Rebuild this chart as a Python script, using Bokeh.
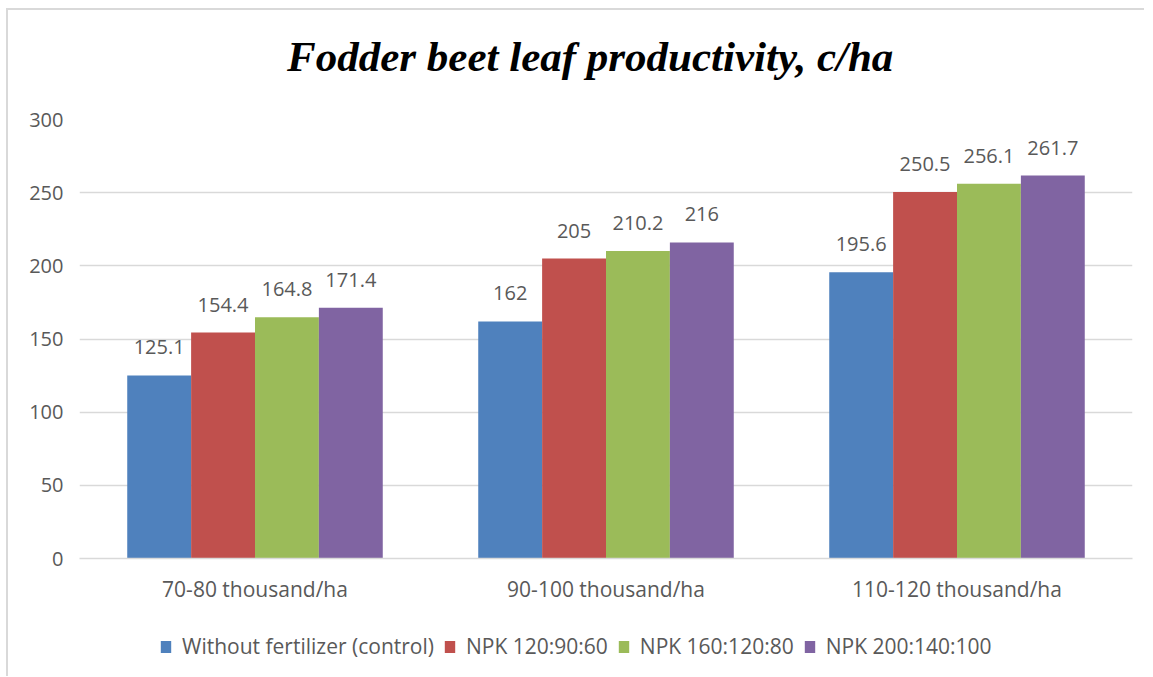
from bokeh.plotting import figure
from bokeh.models import ColumnDataSource, Legend, LegendItem, FactorRange, Label
from bokeh.layouts import column
from bokeh.transform import dodge
from bokeh.embed import file_html
from bokeh.resources import INLINE

categories = ["70-80 thousand/ha", "90-100 thousand/ha", "110-120 thousand/ha"]
series_names = ["Without fertilizer (control)", "NPK 120:90:60", "NPK 160:120:80", "NPK 200:140:100"]
control = [125.1, 162, 195.6]
npk_120 = [154.4, 205, 250.5]
npk_160 = [164.8, 210.2, 256.1]
npk_200 = [171.4, 216, 261.7]

colors = ["#4F81BD", "#C0504D", "#9BBB59", "#8064A2"]
series_values = [control, npk_120, npk_160, npk_200]
offsets = [-0.273, -0.091, 0.091, 0.273]
bar_w = 0.182

FONT = "Open Sans"
TXT = "#595959"
W = 1136


def bare(fig):
    fig.axis.visible = False
    fig.xgrid.grid_line_color = None
    fig.ygrid.grid_line_color = None
    fig.outline_line_color = None
    fig.background_fill_color = "white"
    fig.border_fill_color = "white"


# Title
title_fig = figure(width=W, height=86, x_range=(0, 1), y_range=(0, 1),
                   toolbar_location=None, output_backend="svg", min_border=0)
bare(title_fig)
title_fig.add_layout(Label(x=0.485, y=0.46, text="Fodder beet leaf productivity, c/ha",
                           text_align="center", text_baseline="middle",
                           text_font="Liberation Serif", text_font_style="bold italic",
                           text_font_size="43px", text_color="#000000"))

# Main chart
p = figure(
    x_range=FactorRange(*categories), y_range=(0, 300),
    frame_width=1053, frame_height=439, output_backend="svg", toolbar_location=None,
    min_border_left=71, min_border_right=12, min_border_top=23, min_border_bottom=52,
)
p.outline_line_color = None
p.background_fill_color = "white"
p.border_fill_color = "white"

sources = []
for name, vals, col, off in zip(series_names, series_values, colors, offsets):
    src = ColumnDataSource(dict(cat=categories, val=vals, lab=[f"{v:g}" for v in vals]))
    sources.append(src)
    p.vbar(x=dodge("cat", off, range=p.x_range), top="val", width=bar_w, source=src,
           fill_color=col, line_color=None)
    p.text(x=dodge("cat", off, range=p.x_range), y="val", text="lab", source=src,
           text_align="center", text_baseline="bottom", y_offset=-21,
           text_font={"value": FONT}, text_font_size="20px", text_color=TXT)

p.xgrid.grid_line_color = None
p.ygrid.grid_line_color = "#d9d9d9"
p.ygrid.grid_line_width = 1.3

p.yaxis.ticker = [0, 50, 100, 150, 200, 250, 300]
p.yaxis.axis_line_color = None
p.yaxis.major_tick_line_color = None
p.yaxis.minor_tick_line_color = None
p.yaxis.major_label_text_font = FONT
p.yaxis.major_label_text_font_size = "20px"
p.yaxis.major_label_text_color = TXT
p.yaxis.major_label_standoff = 10

p.xaxis.axis_line_color = "#d9d9d9"
p.xaxis.axis_line_width = 1.3
p.xaxis.major_tick_line_color = None
p.xaxis.minor_tick_line_color = None
p.xaxis.major_label_text_font = FONT
p.xaxis.major_label_text_font_size = "21px"
p.xaxis.major_label_text_color = TXT
p.xaxis.major_label_standoff = 10

# Legend strip (series bars kept far outside its visible range, only the legend shows)
leg_fig = figure(width=W, height=66, x_range=FactorRange(*categories), y_range=(1000, 1001),
                 toolbar_location=None, output_backend="svg", min_border=0)
bare(leg_fig)
items = []
for name, col, src in zip(series_names, colors, sources):
    r = leg_fig.vbar(x="cat", top="val", width=bar_w, source=src, fill_color=col, line_color=None)
    items.append(LegendItem(label=name, renderers=[r]))
legend = Legend(items=items, orientation="horizontal", location=(80, 16),
                label_text_font=FONT, label_text_font_size="21px", label_text_color=TXT,
                glyph_width=13, glyph_height=15, label_standoff=10, spacing=9,
                border_line_color=None, background_fill_alpha=0, margin=0, padding=0)
leg_fig.add_layout(legend, "center")

layout = column(title_fig, p, leg_fig, spacing=0)
layout.styles = {"border-left": "2px solid #d9d9d9", "border-top": "2px solid #d9d9d9",
                 "margin-left": "6px", "margin-top": "8px"}

open("out.html", "w").write(file_html(layout, INLINE))
